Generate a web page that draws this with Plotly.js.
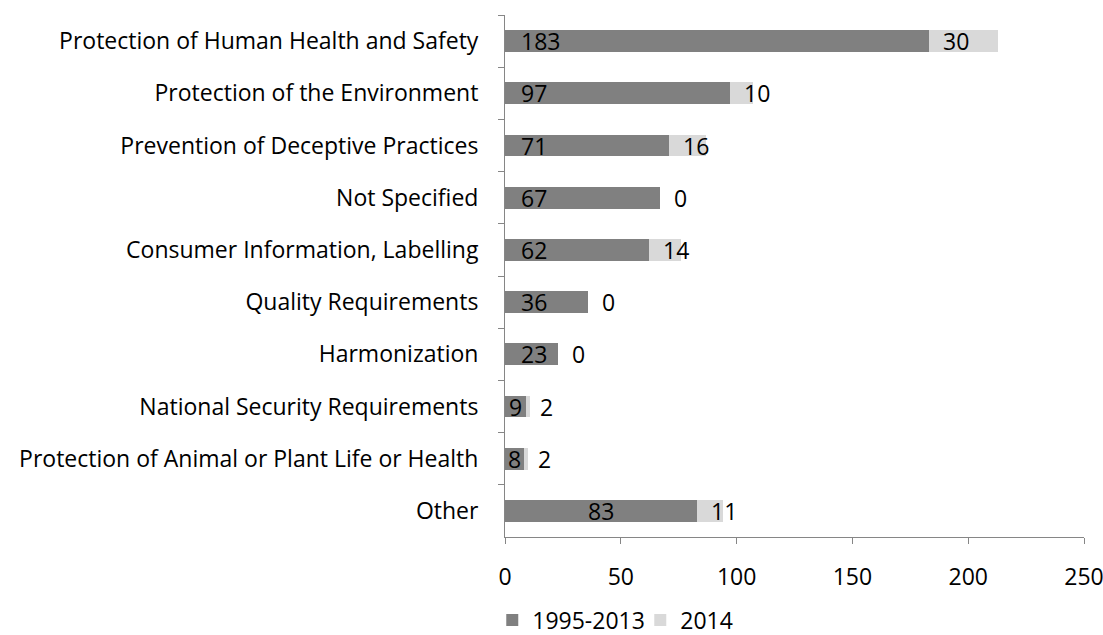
<!DOCTYPE html>
<html>
<head>
<meta charset="utf-8">
<script src="https://cdn.plot.ly/plotly-3.0.1.min.js"></script>
<style>html,body{margin:0;padding:0;background:#fff;}#chart{width:1103px;height:635px;}</style>
</head>
<body>
<div id="chart"></div>
<script>
const categories = [
  "Protection of Human Health and Safety",
  "Protection of the Environment",
  "Prevention of Deceptive Practices",
  "Not Specified",
  "Consumer Information, Labelling",
  "Quality Requirements",
  "Harmonization",
  "National Security Requirements",
  "Protection of Animal or Plant Life or Health",
  "Other"
];
const values1995_2013 = [183, 97, 71, 67, 62, 36, 23, 9, 8, 83];
const values2014 = [30, 10, 16, 0, 14, 0, 0, 2, 2, 11];
const seriesNames = ["1995-2013", "2014"];
const xTicks = [0, 50, 100, 150, 200, 250];

const FONT = "Open Sans, sans-serif";
const FS = 23;
const centeredDark = new Set(["National Security Requirements", "Protection of Animal or Plant Life or Health", "Other"]);

const traces = [
  {type: "bar", orientation: "h", name: seriesNames[0], y: categories, x: values1995_2013,
   marker: {color: "#808080"}, hoverinfo: "x+y"},
  {type: "bar", orientation: "h", name: seriesNames[1], y: categories, x: values2014,
   marker: {color: "#d9d9d9"}, hoverinfo: "x+y"}
];

const annotations = [];
categories.forEach((c, i) => {
  const v1 = values1995_2013[i];
  if (centeredDark.has(c)) {
    annotations.push({x: v1 / 2, y: c, xref: "x", yref: "y", text: String(v1), showarrow: false,
      xanchor: "center", font: {family: FONT, size: FS, color: "#000"}});
  } else {
    annotations.push({x: 0, y: c, xref: "x", yref: "y", text: String(v1), showarrow: false,
      xanchor: "left", xshift: 14, font: {family: FONT, size: FS, color: "#000"}});
  }
  annotations.push({x: v1, y: c, xref: "x", yref: "y", text: String(values2014[i]), showarrow: false,
    xanchor: "left", xshift: 12, font: {family: FONT, size: FS, color: "#000"}});
});

const layout = {
  width: 1103, height: 635,
  margin: {l: 505, r: 19, t: 15, b: 98, autoexpand: false},
  paper_bgcolor: "#fff", plot_bgcolor: "#fff",
  barmode: "stack", bargap: 0.58,
  font: {family: FONT, size: FS, color: "#000"},
  showlegend: true,
  legend: {orientation: "h", x: -0.022, xanchor: "left", y: -0.159, yanchor: "middle",
    font: {family: FONT, size: FS, color: "#000"}, traceorder: "normal", itemwidth: 30,
    entrywidth: 103, entrywidthmode: "pixels"},
  xaxis: {range: [0, 250], tickvals: xTicks, ticktext: xTicks.map(String), showgrid: false, zeroline: false,
    showline: true, linecolor: "#868686", linewidth: 1, ticks: "outside", ticklen: 6, tickcolor: "#868686",
    ticklabelstandoff: 13, ticklabeloverflow: "allow", fixedrange: true},
  yaxis: {type: "category", autorange: "reversed", showgrid: false, zeroline: false, showline: true,
    linecolor: "#868686", linewidth: 1, ticks: "outside", ticklen: 6, tickcolor: "#868686", tickson: "boundaries",
    ticklabelstandoff: 21, fixedrange: true},
  annotations: annotations
};

Plotly.newPlot("chart", traces, layout, {displayModeBar: false, staticPlot: true});
</script>
</body>
</html>
